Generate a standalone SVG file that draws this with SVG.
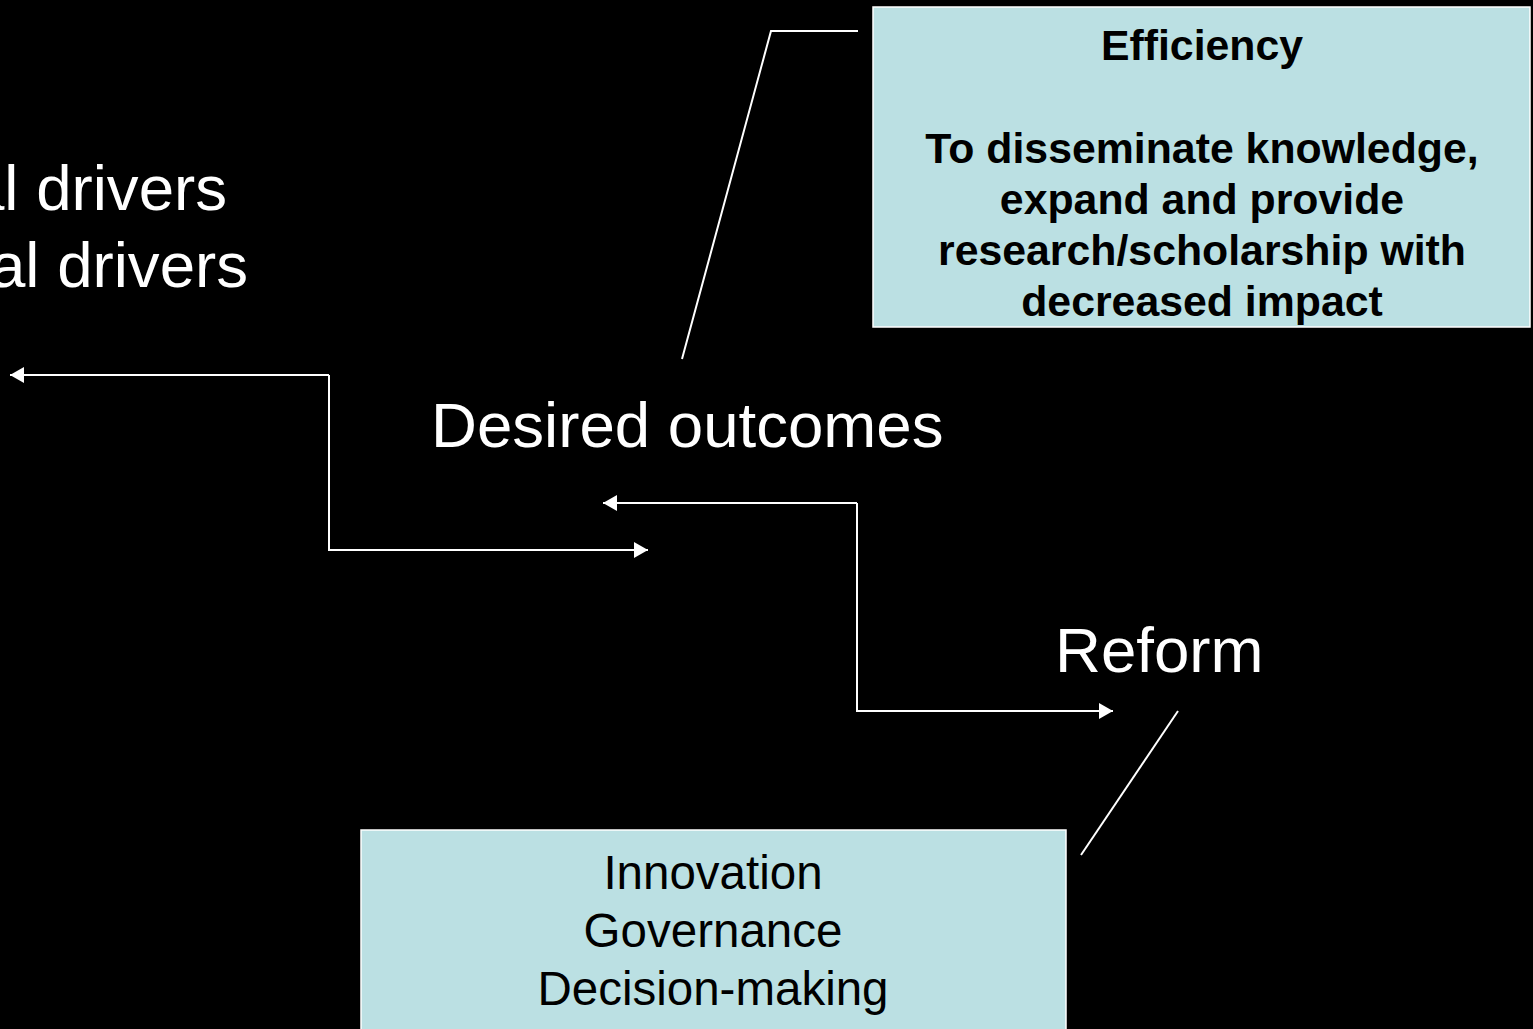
<svg xmlns="http://www.w3.org/2000/svg" width="1533" height="1029" viewBox="0 0 1533 1029">
<style>
.big{font-family:"Liberation Sans",Arial,sans-serif;font-size:63.6px;fill:#fff}
.box{fill:#BBE0E3;stroke:#fff;stroke-width:1.5}
.bt{font-family:"Liberation Sans",Arial,sans-serif;font-size:42.8px;font-weight:bold;fill:#000;text-anchor:middle}
.nt{font-family:"Liberation Sans",Arial,sans-serif;font-size:47.5px;fill:#000;text-anchor:middle}
.ln{fill:none;stroke:#fff;stroke-width:2}
</style>
<defs>
<marker id="ah" viewBox="0 0 14 16" refX="14" refY="8" markerWidth="14" markerHeight="16" markerUnits="userSpaceOnUse" orient="auto">
<path d="M0,0 L14,8 L0,16 Z" fill="#fff"/>
</marker>
</defs>
<rect width="1533" height="1029" fill="#000"/>
<g id="drivers">
<text class="big" x="-31" y="210">al drivers</text>
<text class="big" x="-10" y="287">al drivers</text>
</g>
<g id="desired-outcomes">
<text class="big" x="431" y="447">Desired outcomes</text>
</g>
<g id="reform">
<text class="big" x="1055" y="672">Reform</text>
</g>
<g id="efficiency">
<rect class="box" x="873" y="7" width="657" height="320"/>
<text class="bt" x="1202" y="60">Efficiency</text>
<text class="bt" x="1202" y="163">To disseminate knowledge,</text>
<text class="bt" x="1202" y="214">expand and provide</text>
<text class="bt" x="1202" y="265">research/scholarship with</text>
<text class="bt" x="1202" y="316">decreased impact</text>
</g>
<g id="reform-box">
<rect class="box" x="361" y="830" width="705" height="220"/>
<text class="nt" x="713" y="889">Innovation</text>
<text class="nt" x="713" y="947">Governance</text>
<text class="nt" x="713" y="1005">Decision-making</text>
</g>
<g id="connectors">
<polyline class="ln" points="329,375 10,375" marker-end="url(#ah)"/>
<polyline class="ln" points="329,375 329,550 648,550" marker-end="url(#ah)"/>
<polyline class="ln" points="857,503 603,503" marker-end="url(#ah)"/>
<polyline class="ln" points="857,503 857,711 1113,711" marker-end="url(#ah)"/>
<polyline class="ln" points="682,359 771,31 858,31"/>
<line class="ln" x1="1178" y1="711" x2="1081" y2="855"/>
</g>
</svg>
